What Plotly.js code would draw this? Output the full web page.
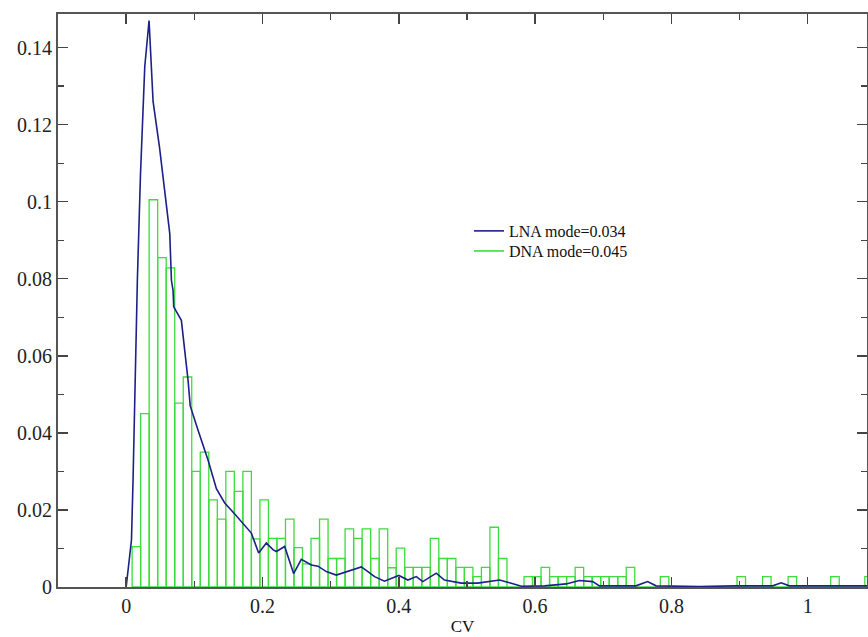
<!DOCTYPE html>
<html>
<head>
<meta charset="utf-8">
<script src="https://cdn.plot.ly/plotly-3.0.1.min.js"></script>
<style>html,body{margin:0;padding:0;background:#fff;}#chart{width:868px;height:637px;}</style>
</head>
<body>
<div id="chart"></div>
<script>
// LNA curve (CV, density)
const lnaX = [0, 0.0078, 0.0101, 0.014, 0.0165, 0.021, 0.0273, 0.0336, 0.0395, 0.049, 0.0576, 0.064, 0.0664, 0.0688, 0.0698, 0.081, 0.0908, 0.094, 0.1055, 0.12, 0.1324, 0.1446, 0.159, 0.1714, 0.1837, 0.1944, 0.2057, 0.2154, 0.2204, 0.2326, 0.2374, 0.2457, 0.257, 0.2717, 0.2814, 0.2937, 0.3083, 0.323, 0.345, 0.3547, 0.3645, 0.379, 0.389, 0.4, 0.4134, 0.4257, 0.4353, 0.455, 0.467, 0.4917, 0.516, 0.5478, 0.5625, 0.58, 0.614, 0.6456, 0.665, 0.6846, 0.6945, 0.748, 0.765, 0.7776, 0.841, 0.895, 0.9486, 0.961, 0.973, 1.087];
const lnaY = [0, 0.0122, 0.0277, 0.0623, 0.08, 0.107, 0.135, 0.147, 0.126, 0.114, 0.102, 0.0917, 0.0796, 0.077, 0.0727, 0.0692, 0.0537, 0.047, 0.0407, 0.033, 0.0255, 0.0218, 0.019, 0.0166, 0.014, 0.0088, 0.0114, 0.0097, 0.0092, 0.0105, 0.0079, 0.0035, 0.0072, 0.0057, 0.0054, 0.004, 0.0031, 0.004, 0.0052, 0.004, 0.0027, 0.0015, 0.0023, 0.003, 0.0018, 0.0027, 0.0014, 0.0036, 0.0018, 0.001, 0.001, 0.0018, 0.0011, 0.0002, 0.0003, 0.0008, 0.0017, 0.0014, 0.0003, 0.0003, 0.0014, 0.0003, 0.0001, 0.0003, 0.0003, 0.0011, 0.0003, 0.0003];

// DNA histogram (bin width 0.0125, first bin centred at 0.015)
const dnaBinStart = 0.015;
const dnaBinWidth = 0.0125;
const dnaY = [0.0105, 0.045, 0.1005, 0.0855, 0.0828, 0.0477, 0.0545, 0.030, 0.035, 0.0226,
              0.0176, 0.030, 0.0248, 0.030, 0.0125, 0.0226, 0.0126, 0.0126, 0.0176, 0.0102,
              0.006, 0.0126, 0.0176, 0.0074, 0.0074, 0.0151, 0.0126, 0.0151, 0.0074, 0.0151,
              0.005, 0.0101, 0.0051, 0.0051, 0.0051, 0.0126, 0.0074, 0.0074, 0.0051, 0.0051,
              0.0027, 0.0051, 0.0155, 0.0074, 0, 0, 0.0027, 0.0027, 0.0051, 0.0027,
              0.0027, 0.0027, 0.0051, 0.0027, 0.0027, 0.0027, 0.0027, 0.0027, 0.0051, 0,
              0, 0, 0.0027, 0, 0, 0, 0, 0, 0, 0,
              0, 0.0027, 0, 0, 0.0027, 0, 0, 0.0027, 0, 0,
              0, 0, 0.0027, 0, 0, 0, 0.0027];

const lnaName = 'LNA mode=0.034';
const dnaName = 'DNA mode=0.045';

const blue = '#1c2088';
const green = '#3ddc3d';
const serif = '"Liberation Serif", "Times New Roman", serif';

const traces = [
  {
    type: 'bar', x0: dnaBinStart, dx: dnaBinWidth, y: dnaY,
    marker: {color: 'rgba(0,0,0,0)', line: {color: green, width: 1.3}},
    showlegend: false, hoverinfo: 'skip'
  },
  {
    type: 'scatter', mode: 'lines', x: lnaX, y: lnaY, name: lnaName,
    line: {color: blue, width: 1.6}, legend: 'legend'
  },
  {
    type: 'scatter', mode: 'lines', x: [null], y: [null], name: dnaName,
    line: {color: green, width: 1.6}, legend: 'legend2'
  }
];

const tickFont = {family: serif, size: 20, color: '#222'};
const legFont = {family: serif, size: 16, color: '#111'};
const layout = {
  width: 868, height: 637,
  margin: {l: 58, r: 1, t: 14, b: 50},
  paper_bgcolor: '#fff', plot_bgcolor: '#fff',
  bargap: 0,
  showlegend: true,
  legend: {x: 0.508, y: 0.651, xanchor: 'left', yanchor: 'top', bgcolor: 'rgba(0,0,0,0)',
           font: legFont, itemwidth: 30},
  legend2: {x: 0.508, y: 0.616, xanchor: 'left', yanchor: 'top', bgcolor: 'rgba(0,0,0,0)',
           font: legFont, itemwidth: 30},
  xaxis: {
    range: [-0.1, 1.087], tick0: 0, dtick: 0.2, ticks: 'inside', ticklen: 10, tickwidth: 1.5, tickcolor: '#444',
    showline: true, linecolor: '#555', linewidth: 2, mirror: 'allticks', showgrid: false, zeroline: false,
    minor: {ticks: 'inside', ticklen: 6, dtick: 0.1, tick0: 0, tickcolor: '#444', tickwidth: 1.2, showgrid: false},
    tickfont: tickFont,
    title: {text: 'CV', font: {family: serif, size: 17, color: '#111'}, standoff: 4}
  },
  yaxis: {
    range: [0, 0.1487], tick0: 0, dtick: 0.02, ticks: 'inside', ticklen: 10, tickwidth: 1.5, tickcolor: '#444',
    showline: true, linecolor: '#555', linewidth: 2, mirror: 'allticks', showgrid: false, zeroline: false,
    minor: {ticks: 'inside', ticklen: 6, dtick: 0.01, tick0: 0, tickcolor: '#444', tickwidth: 1.2, showgrid: false},
    tickfont: tickFont
  }
};

Plotly.newPlot('chart', traces, layout, {displayModeBar: false, staticPlot: true});
</script>
</body>
</html>
